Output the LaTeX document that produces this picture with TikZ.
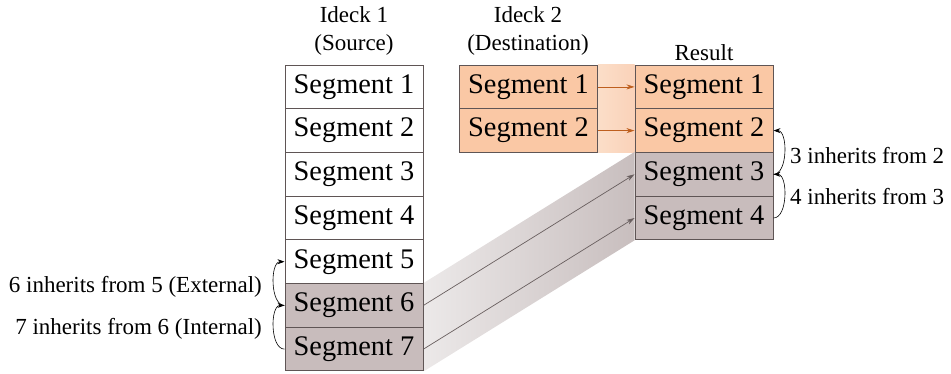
\documentclass[tikz,border=0pt]{standalone}
\usepackage{fontspec}
\setmainfont{Liberation Serif}
\usetikzlibrary{arrows.meta,backgrounds}
\definecolor{segorange}{RGB}{250,200,165}
\definecolor{segmauve}{RGB}{200,188,188}
\definecolor{segline}{RGB}{95,85,85}
\definecolor{copyorange}{RGB}{190,95,30}
\definecolor{copygrey}{RGB}{105,95,95}
\tikzset{
  seg/.style={draw=segline, line width=1pt, minimum width=138pt, minimum height=43.7pt,
    inner sep=0pt, font=\fontsize{28.4}{34}\selectfont},
  lbl/.style={font=\fontsize{23}{28}\selectfont, align=center, inner sep=0pt},
  copyarrow/.style={line width=0.7pt, -{Stealth[length=8pt,width=5pt]}},
  inherit/.style={line width=0.6pt, black, -{Stealth[length=7pt,width=5pt]}}
}
\begin{document}
\begin{tikzpicture}[x=1pt,y=-1pt]
  \useasboundingbox (0,0) rectangle (951,373);
  % column headings
  \node[lbl] (src) at (354,31) {Ideck 1\\(Source)};
  \node[lbl] (dst) at (528,31) {Ideck 2\\(Destination)};
  \node[lbl] (res) at (704,53) {Result};
  % source ideck
  \node[seg] (s1) at (354,86.9) {Segment 1};
  \node[seg] (s2) at (354,130.6) {Segment 2};
  \node[seg] (s3) at (354,174.3) {Segment 3};
  \node[seg] (s4) at (354,218.0) {Segment 4};
  \node[seg] (s5) at (354,261.7) {Segment 5};
  \node[seg, fill=segmauve] (s6) at (354,305.4) {Segment 6};
  \node[seg, fill=segmauve] (s7) at (354,349.1) {Segment 7};
  % destination ideck
  \node[seg, fill=segorange] (d1) at (528.5,86.9) {Segment 1};
  \node[seg, fill=segorange] (d2) at (528.5,130.6) {Segment 2};
  % result
  \node[seg, fill=segorange] (r1) at (704,86.9) {Segment 1};
  \node[seg, fill=segorange] (r2) at (704,130.6) {Segment 2};
  \node[seg, fill=segmauve] (r3) at (704,174.3) {Segment 3};
  \node[seg, fill=segmauve] (r4) at (704,218.0) {Segment 4};
  % copy bands
  \begin{scope}[on background layer]
    \shade[left color={rgb,255:red,251;green,222;blue,200}, right color={rgb,255:red,250;green,210;blue,185}]
      (d1.north east) rectangle (r2.south west);
    \shade[left color={rgb,255:red,236;green,233;blue,233}, right color={rgb,255:red,200;green,190;blue,190}]
      (s6.north east) -- (r3.north west) -- (r4.south west) -- (s7.south east) -- cycle;
  \end{scope}
  \begin{scope}[copyarrow]
    \draw[copyorange] (d1.east) -- (r1.west);
    \draw[copyorange] (d2.east) -- (r2.west);
    \draw[copygrey] (s6.east) -- (r3.west);
    \draw[copygrey] (s7.east) -- (r4.west);
  \end{scope}
  % inheritance
  \begin{scope}[inherit]
    \draw (r3.east) to[bend right=90, looseness=0.85] (r2.east);
    \draw (r4.east) to[bend right=90, looseness=0.85] (r3.east);
    \draw (s6.west) to[bend left=90, looseness=0.85] (s5.west);
    \draw (s7.west) to[bend left=90, looseness=0.85] (s6.west);
  \end{scope}
  \node[lbl, anchor=west] (i32) at (790,156) {3 inherits from 2};
  \node[lbl, anchor=west] (i43) at (790,197) {4 inherits from 3};
  \node[lbl, anchor=east] (i65) at (262,287) {6 inherits from 5 (External)};
  \node[lbl, anchor=east] (i76) at (262,329) {7 inherits from 6 (Internal)};
\end{tikzpicture}
\end{document}
